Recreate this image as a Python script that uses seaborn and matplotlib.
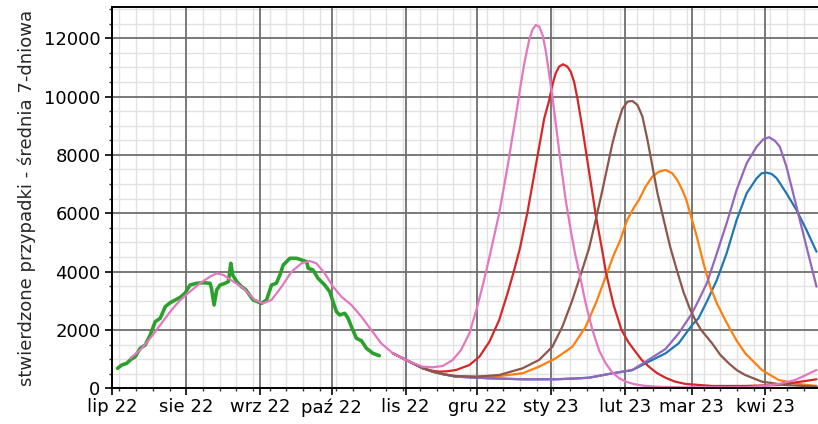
import numpy as np
import pandas as pd
import matplotlib
matplotlib.use("Agg")
import matplotlib.pyplot as plt
import matplotlib.dates as mdates
from matplotlib.ticker import MultipleLocator, FixedLocator
import seaborn as sns

# ---------------- data (days since 2022-07-01, 7-day average of cases) ----------------
START = pd.Timestamp("2022-07-01")

green_days = [2.2, 4.0, 6.1, 7.5, 9.6, 11.7, 13.8, 15.9, 18.0, 20.1, 22.2, 24.3, 26.4, 28.5,
              30.5, 32.6, 35.4, 38.2, 41.0, 41.6, 42.7, 43.8, 45.2, 47.3, 48.7, 49.7, 50.5,
              52.2, 54.2, 56.0, 59.1, 62.6, 64.7, 66.8, 68.8, 70.3, 71.7, 74.5, 77.3, 79.4,
              81.5, 82.2, 84.2, 86.3, 89.1, 91.2, 92.6, 94.0, 95.4, 97.5, 98.9, 100.3, 102.4,
              104.5, 106.6, 109.3, 112.0]
green_vals = [686, 799, 857, 970, 1083, 1371, 1484, 1827, 2284, 2399, 2797, 2935, 3027, 3120,
              3257, 3541, 3600, 3620, 3600, 3428, 2856, 3370, 3541, 3600, 3657, 4285, 3884,
              3657, 3483, 3380, 3027, 2914, 3027, 3541, 3600, 3884, 4227, 4456, 4456, 4399,
              4341, 4113, 4056, 3771, 3541, 3313, 2970, 2628, 2513, 2571, 2400, 2112, 1714,
              1632, 1371, 1200, 1118]

pink_days = [7.5, 11.7, 15.9, 20.1, 24.3, 28.5, 32.6, 36.8, 41.0, 43.8, 46.6, 50.8, 55.0,
             59.8, 63.3, 66.8, 71.0, 75.2, 79.4, 82.8, 85.6, 89.1, 92.6, 96.1, 100.3, 104.5,
             108.6, 112.8, 117.7, 120.5, 124.7, 130.2, 134.4, 138.6, 142.8, 146.3, 149.8,
             152.6, 154.7, 156.8, 158.9, 162.3, 165.8, 169.8, 171.4, 173.1, 174.9, 176.3,
             177.7, 179.1, 180.5, 181.9, 183.3, 184.7, 186.1, 188.2, 190.3, 192.4, 194.1,
             195.8, 198.6, 201.4, 204.2, 207.0, 209.8, 212.5, 215.4, 219.0, 223.7, 230.0,
             237.6, 265.5, 272.0, 279.5, 286.5, 295.4]
pink_vals = [1028, 1313, 1714, 2170, 2628, 3027, 3313, 3600, 3828, 3942, 3884, 3657, 3428,
             3027, 2914, 3027, 3483, 3997, 4285, 4364, 4285, 3942, 3483, 3140, 2856, 2455,
             2000, 1543, 1200, 1083, 912, 741, 720, 764, 970, 1313, 1885,
             2650, 3300, 4000, 4750, 6000, 7600, 9600, 10450, 11250, 11950, 12300,
             12455, 12396, 12112, 11539, 10740, 9942, 9026, 7655, 6397, 5368, 4628,
             4000, 2900, 2000, 1300, 850, 540, 350, 227, 140, 80, 50,
             34, 34, 70, 147, 284, 627]

red_days = [117.7, 120.5, 124.7, 130.2, 134.4, 137.2, 140.5, 144.2, 149.8, 154.0, 158.2,
            162.3, 165.8, 168.6, 171.0, 174.2, 177.7, 181.2, 183.2, 184.6, 186.0, 187.4,
            189.1, 190.9, 192.3, 193.7, 195.1, 197.2, 200.0, 202.8, 205.6, 207.0, 210.3,
            213.6, 216.5, 219.5, 222.0, 225.1, 228.5, 232.1, 236.0, 240.4, 251.6, 265.5,
            279.5, 295.4]
red_vals = [1200, 1083, 912, 690, 600, 570, 585, 627, 798, 1083, 1597,
            2341, 3257, 4056, 4800, 6054, 7655, 9256, 9850, 10400, 10797, 11025,
            11107, 11025, 10854, 10511, 9942, 8913, 7426, 5941, 4683, 4000, 2850,
            2000, 1580, 1250, 980, 741, 520, 360, 230, 150, 80, 80,
            114, 309]

brown_days = [117.7, 120.5, 124.7, 130.2, 134.4, 139.0, 144.2, 152.6, 162.3, 172.1, 179.0,
              184.6, 188.8, 193.0, 196.5, 200.0, 203.0, 205.6, 207.7, 209.8, 211.9, 214.0,
              216.1, 218.2, 220.3, 222.4, 224.5, 226.6, 228.7, 231.3, 234.0, 236.8, 239.6,
              242.4, 244.8, 247.0, 251.6, 255.0, 258.6, 262.0, 265.5, 272.5, 282.3, 295.4]
brown_vals = [1200, 1083, 912, 690, 570, 480, 420, 398, 456, 686, 970,
              1426, 2112, 3027, 3900, 4800, 5850, 6798, 7597, 8399, 9050, 9580,
              9826, 9849, 9712, 9312, 8512, 7597, 6685, 5780, 4854, 4056, 3300,
              2700, 2300, 2000, 1543, 1150, 857, 620, 456, 227, 114, 55]

orange_days = [117.7, 120.5, 124.7, 130.2, 134.4, 139.0, 144.2, 152.6, 162.3, 172.1, 179.0,
               186.0, 193.0, 198.6, 203.0, 207.0, 210.0, 213.1, 216.0, 218.5, 220.9, 223.7,
               226.5, 229.3, 232.1, 234.9, 237.0, 239.1, 240.8, 242.4, 245.2, 248.0, 250.8,
               253.6, 256.4, 258.6, 262.0, 265.5, 272.5, 279.5, 287.9, 295.4]
orange_vals = [1200, 1083, 912, 690, 570, 480, 420, 398, 420, 514, 741,
               1028, 1426, 2112, 2950, 3826, 4500, 5084, 5770, 6150, 6455, 6911,
               7254, 7426, 7484, 7370, 7141, 6798, 6455, 6000, 5197, 4285, 3483,
               2914, 2455, 2112, 1620, 1200, 627, 284, 147, 80]

purple_days = [117.7, 120.5, 124.7, 130.2, 134.4, 139.0, 144.2, 158.2, 172.1, 186.0, 195.8,
               200.0, 209.8, 218.1, 223.7, 232.1, 237.6, 243.2, 246.0, 249.4, 253.6, 257.7,
               261.9, 266.1, 270.3, 273.1, 275.5, 277.9, 280.0, 282.8, 285.6, 288.4, 291.2,
               294.0, 295.4]
purple_vals = [1200, 1083, 912, 690, 570, 480, 398, 343, 309, 309, 343,
               363, 514, 627, 912, 1350, 1885, 2571, 3027, 3600, 4628, 5657,
               6798, 7713, 8283, 8536, 8605, 8488, 8283, 7597, 6685, 5770, 4854,
               3943, 3483]

blue_days = [117.7, 120.5, 124.7, 130.2, 134.4, 139.0, 144.2, 158.2, 172.1, 186.0, 195.8,
             200.0, 209.8, 218.1, 223.7, 232.1, 237.6, 243.2, 245.9, 249.4, 253.6, 257.7,
             261.9, 266.1, 270.3, 272.4, 274.5, 276.6, 278.7, 282.8, 287.0, 291.2, 295.4]
blue_vals = [1200, 1083, 912, 690, 570, 480, 398, 343, 309, 309, 343,
             363, 514, 620, 857, 1200, 1543, 2170, 2400, 2969, 3713, 4628,
             5770, 6685, 7200, 7370, 7392, 7347, 7200, 6685, 6112, 5427, 4683]

month_ticks = ["2022-07-01", "2022-08-01", "2022-09-01", "2022-10-01", "2022-11-01",
               "2022-12-01", "2023-01-01", "2023-02-01", "2023-03-01", "2023-04-01"]
month_labels = ["lip 22", "sie 22", "wrz 22", "paź 22", "lis 22",
                "gru 22", "sty 23", "lut 23", "mar 23", "kwi 23"]

series = [
    ("blue", blue_days, blue_vals, "#1f77b4", 1.6),
    ("orange", orange_days, orange_vals, "#ff7f0e", 1.6),
    ("green", green_days, green_vals, "#2ca02c", 2.6),
    ("red", red_days, red_vals, "#d62728", 1.6),
    ("purple", purple_days, purple_vals, "#9467bd", 1.6),
    ("brown", brown_days, brown_vals, "#8c564b", 1.6),
    ("pink", pink_days, pink_vals, "#e377c2", 1.6),
]

# ---------------- figure ----------------
sns.set_style("white")
plt.rcParams['font.family'] = ['DejaVu Sans']

W, H = 818, 424
fig = plt.figure(figsize=(W / 100, H / 100), dpi=100)
ax = fig.add_axes([112.3 / W, (H - 388.3) / H, 724.7 / W, 381.3 / H])

for name, d, v, col, lw in series:
    df = pd.DataFrame({"date": START + pd.to_timedelta(np.array(d), unit="D"), "value": v})
    sns.lineplot(data=df, x="date", y="value", ax=ax, color=col, linewidth=lw,
                 estimator=None, sort=False, zorder=3)

ax.set_xlim(START, pd.Timestamp("2023-05-01"))
ax.set_ylim(0, 13070)

major_x = mdates.date2num(pd.to_datetime(month_ticks))
ax.xaxis.set_major_locator(FixedLocator(major_x))
ax.set_xticklabels(month_labels)
ax.xaxis.set_minor_locator(mdates.WeekdayLocator(byweekday=mdates.MO))
ax.yaxis.set_major_locator(MultipleLocator(2000))
ax.yaxis.set_minor_locator(MultipleLocator(500))

# light minor grid below, solid major grid on top of it
ax.grid(which="minor", color="#e2e2e2", linewidth=1.0)
ax.grid(which="major", visible=False)
ax.set_axisbelow(True)
for xv in major_x:
    ax.axvline(xv, color="#6e6e6e", linewidth=1.3, zorder=1)
for yv in range(2000, 13000, 2000):
    ax.axhline(yv, color="#6e6e6e", linewidth=1.3, zorder=1)

ax.tick_params(which="major", direction="out", length=5, width=1.2, labelsize=13,
               bottom=True, left=True, colors="black")
ax.tick_params(which="minor", direction="out", length=2.5, width=1.0,
               bottom=True, left=True, colors="#333333")
ax.tick_params(axis="x", which="major", pad=2)

for s in ["left", "top", "bottom"]:
    ax.spines[s].set_color("black")
    ax.spines[s].set_linewidth(1.4)
    ax.spines[s].set_zorder(4)
ax.spines["right"].set_visible(False)

ax.set_xlabel("")
ax.set_ylabel("stwierdzone przypadki - średnia 7-dniowa", fontsize=13, labelpad=6)

fig.savefig("out.png", dpi=100)
